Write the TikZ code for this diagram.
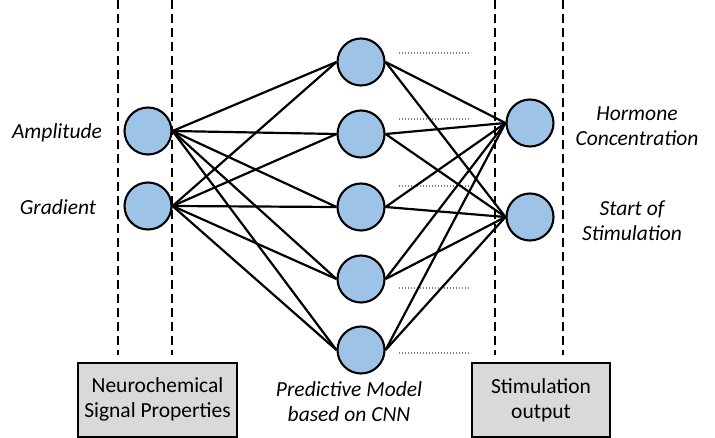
\documentclass[tikz,border=0pt]{standalone}
\usepackage{fontspec}
\setmainfont{Carlito}
\begin{document}
\begin{tikzpicture}[x=1pt,y=-1pt,
  neuron/.style={circle,draw=black,line width=2.1pt,fill=nblue,minimum size=47pt,inner sep=0pt},
  conn/.style={line width=2.2pt,black},
  guide/.style={line width=2pt,dash pattern=on 9pt off 5pt},
  dots/.style={line width=1.3pt,gray,dash pattern=on 1.4pt off 1.6pt},
  lab/.style={font=\fontsize{21.5}{25}\selectfont\itshape,align=center,inner sep=0pt},
  panel/.style={draw=black,line width=2pt,fill=pgray,inner sep=0pt,align=center,font=\fontsize{21.5}{25}\selectfont}]
\definecolor{nblue}{HTML}{9DC3E6}
\definecolor{pgray}{HTML}{D9D9D9}
\useasboundingbox (0,0) rectangle (715,438);
% guide lines
\coordinate (g1t) at (118,0); \coordinate (g1b) at (118,355);
\coordinate (g2t) at (172,0); \coordinate (g2b) at (172,355);
\coordinate (g3t) at (495,0); \coordinate (g3b) at (495,355);
\coordinate (g4t) at (563,0); \coordinate (g4b) at (563,355);
\draw[guide] (g1t) -- (g1b);
\draw[guide] (g2t) -- (g2b);
\draw[guide] (g3t) -- (g3b);
\draw[guide] (g4t) -- (g4b);
% dotted lines
\foreach \y [count=\k] in {53,119,186,288,353}{
  \coordinate (d\k a) at (399,\y); \coordinate (d\k b) at (471,\y);
  \draw[dots] (d\k a) -- (d\k b);
}
% neurons
\node[neuron] (i1) at (148,131) {};
\node[neuron] (i2) at (148,206) {};
\node[neuron] (h1) at (361,62) {};
\node[neuron] (h2) at (361,134) {};
\node[neuron] (h3) at (361,207) {};
\node[neuron] (h4) at (361,279) {};
\node[neuron] (h5) at (361,350) {};
\node[neuron] (o1) at (530,123) {};
\node[neuron] (o2) at (530,217) {};
% connections
\foreach \i in {1,2}{\foreach \h in {1,...,5}{\draw[conn] (i\i.east) -- (h\h.west);}}
\foreach \h in {1,...,5}{\foreach \o in {1,2}{\draw[conn] (h\h.east) -- (o\o.west);}}
% labels
\node[lab] (la) at (57,133) {Amplitude};
\node[lab] (lg) at (58,207) {Gradient};
\node[lab] (lh) at (637,126) {Hormone\\Concentration};
\node[lab] (ls) at (632,221) {Start of\\Stimulation};
\node[lab] (lp) at (349,402) {Predictive Model\\based on CNN};
% panels
\node[panel,minimum width=159pt,minimum height=74pt] (pn) at (157.5,399.5) {Neurochemical\\Signal Properties};
\node[panel,minimum width=138pt,minimum height=74pt] (ps) at (541,400) {Stimulation\\output};
\end{tikzpicture}
\end{document}
